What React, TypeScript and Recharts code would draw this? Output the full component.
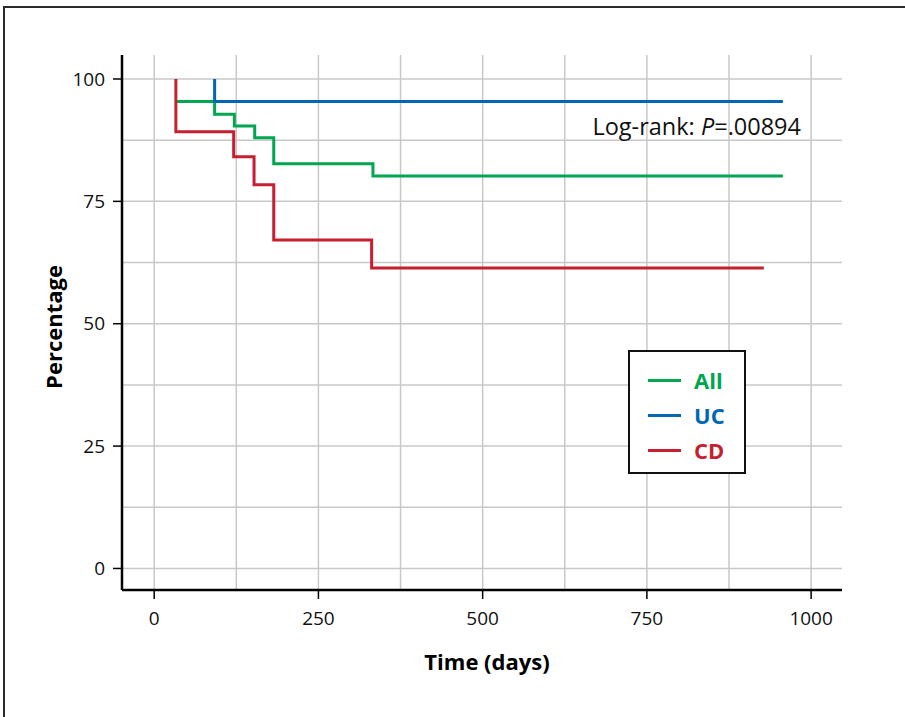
import { LineChart, Line, XAxis, YAxis, ReferenceLine, Legend } from 'recharts';

// Kaplan-Meier steps (days, %)
const allDays = [33, 92, 122, 153, 182, 333, 957];
const allPct = [95.4, 92.8, 90.4, 88.0, 82.7, 80.2, 80.2];
const ucDays = [92, 92, 957];
const ucPct = [100, 95.4, 95.4];
const cdDays = [33, 33, 121, 152, 182, 331, 928];
const cdPct = [100, 89.2, 84.1, 78.4, 67.1, 61.4, 61.4];

const xTicks = [0, 250, 500, 750, 1000];
const yTicks = [0, 25, 50, 75, 100];
const xGrid = [0, 125, 250, 375, 500, 625, 750, 875, 1000];
const yGrid = [0, 12.5, 25, 37.5, 50, 62.5, 75, 87.5, 100];

const series = [
  { name: 'All', color: '#00a650', days: allDays, pct: allPct },
  { name: 'UC', color: '#0068b3', days: ucDays, pct: ucPct },
  { name: 'CD', color: '#c61f30', days: cdDays, pct: cdPct },
];

const FONT = '"Open Sans", "Noto Sans", sans-serif';

const toPoints = (days: number[], pct: number[]) => days.map((d, i) => ({ x: d, y: pct[i] }));

function LegendBox() {
  return (
    <div
      style={{
        position: 'relative',
        width: 114,
        height: 120,
        border: '2px solid #111',
        background: '#fff',
      }}
    >
      {series.map((s, i) => (
        <div
          key={s.name}
          style={{
            position: 'absolute',
            left: 18,
            top: 13 + i * 35,
            display: 'flex',
            alignItems: 'center',
            fontFamily: FONT,
            fontWeight: 700,
            fontSize: 22,
            lineHeight: '30px',
            color: s.color,
          }}
        >
          <span style={{ display: 'inline-block', width: 33, height: 3, background: s.color, marginRight: 13 }} />
          {s.name}
        </div>
      ))}
    </div>
  );
}

export default function App() {
  return (
    <div style={{ position: 'absolute', left: 0, top: 0, width: 905, height: 717, overflow: 'hidden', background: '#fff' }}>
      <div
        style={{
          position: 'absolute',
          left: 3,
          top: 6,
          width: 1000,
          height: 800,
          border: '2px solid #2b2b2b',
        }}
      />
      <div style={{ position: 'absolute', left: 0, top: 0 }}>
        <LineChart width={905} height={717} margin={{ top: 55, right: 63, bottom: 0, left: 0 }}>
          <XAxis
            dataKey="x"
            type="number"
            domain={[-49, 1047]}
            ticks={xTicks}
            allowDataOverflow
            height={127}
            tickSize={9}
            tickMargin={13}
            axisLine={{ stroke: '#000', strokeWidth: 2.5 }}
            tickLine={{ stroke: '#000', strokeWidth: 1.5 }}
            tick={{ fill: '#111', fontSize: 19, fontFamily: FONT }}
            label={{
              content: () => (
                <text x={487} y={670} textAnchor="middle" fontFamily={FONT} fontWeight={700} fontSize={22} fill="#000">
                  Time (days)
                </text>
              ),
            }}
          />
          <YAxis
            dataKey="y"
            type="number"
            domain={[-4.4, 104.9]}
            ticks={yTicks}
            allowDataOverflow
            width={122}
            tickSize={9}
            tickMargin={8}
            axisLine={{ stroke: '#000', strokeWidth: 2.5 }}
            tickLine={{ stroke: '#000', strokeWidth: 1.5 }}
            tick={{ fill: '#111', fontSize: 19, fontFamily: FONT }}
            label={{
              content: () => (
                <text
                  x={62}
                  y={327}
                  transform="rotate(-90 62 327)"
                  textAnchor="middle"
                  fontFamily={FONT}
                  fontWeight={700}
                  fontSize={22}
                  fill="#000"
                >
                  Percentage
                </text>
              ),
            }}
          />
          {xGrid.map((v) => (
            <ReferenceLine key={'gx' + v} x={v} stroke="#c8c8c8" strokeWidth={1.5} />
          ))}
          {yGrid.map((v) => (
            <ReferenceLine
              key={'gy' + v}
              y={v}
              stroke="#c8c8c8"
              strokeWidth={1.5}
              label={
                v === 87.5
                  ? {
                      content: () => (
                        <text x={801} y={135} textAnchor="end" fontFamily={FONT} fontSize={23.5} fill="#111">
                          Log-rank: <tspan fontStyle="italic">P</tspan>=.00894
                        </text>
                      ),
                    }
                  : undefined
              }
            />
          ))}
          {series.map((s) => (
            <Line
              key={s.name}
              name={s.name}
              data={toPoints(s.days, s.pct)}
              dataKey="y"
              type="stepAfter"
              stroke={s.color}
              strokeWidth={3}
              dot={false}
              activeDot={false}
              isAnimationActive={false}
            />
          ))}
          <Legend
            layout="horizontal"
            verticalAlign="middle"
            align="center"
            wrapperStyle={{ position: 'absolute', left: 628, top: 350, width: 'auto', height: 'auto' }}
            content={() => <LegendBox />}
          />
        </LineChart>
      </div>
    </div>
  );
}
